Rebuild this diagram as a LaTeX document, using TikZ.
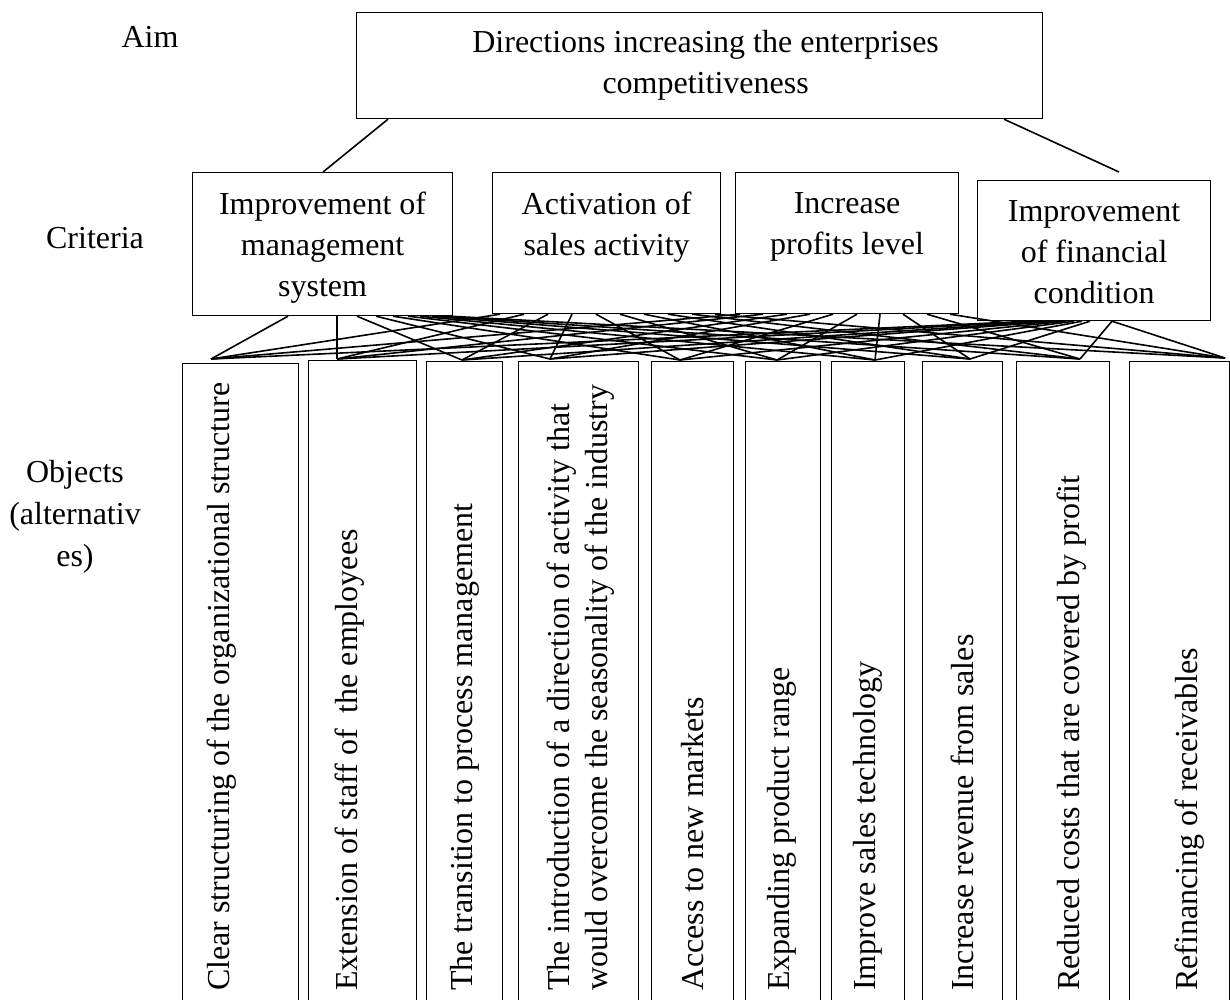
\documentclass[tikz,border=0pt]{standalone}
\usepackage{fontspec}
\setmainfont{Liberation Serif}
\begin{document}
\begin{tikzpicture}[x=1pt,y=-1pt,
  box/.style={draw, line width=1.2pt, inner sep=0pt, anchor=north west},
  txt/.style={font=\fontsize{32}{41}\selectfont, align=center, inner sep=0pt},
  rtxt/.style={font=\fontsize{32}{38}\selectfont, align=left, inner sep=0pt, rotate=90, anchor=west},
  link/.style={line width=1.6pt}]
\useasboundingbox (0,0) rectangle (1230,999);
% labels
\node[txt] (laim) at (150,37) {Aim};
\node[txt] (lcrit) at (95,238) {Criteria};
\node[txt, font=\fontsize{32}{42}\selectfont] (lobj) at (75,517) {Objects\\(alternativ\\es)};
% aim
\node[box, minimum width=686pt, minimum height=106pt] (aim) at (356,12) {};
\node[txt] (aimt) at ([xshift=6pt]aim.center) {Directions increasing the enterprises\\competitiveness};
% criteria
\node[box, minimum width=260pt, minimum height=143pt] (c1) at (192,172) {};
\node[box, minimum width=228pt, minimum height=141pt] (c2) at (492,172) {};
\node[box, minimum width=223pt, minimum height=141pt] (c3) at (735,172) {};
\node[box, minimum width=233pt, minimum height=140pt] (c4) at (977,180) {};
\node[txt, anchor=north] (c1t) at ([yshift=-20pt]c1.north) {Improvement of\\management\\system};
\node[txt, anchor=north] (c2t) at ([yshift=-20pt]c2.north) {Activation of\\sales activity};
\node[txt, anchor=north] (c3t) at ([yshift=-20pt]c3.north) {Increase\\profits level};
\node[txt, anchor=north] (c4t) at ([yshift=-20pt]c4.north) {Improvement\\of financial\\condition};
% objects
\node[box, minimum width=116pt, minimum height=660pt] (o1) at (182,363) {};
\node[box, minimum width=108pt, minimum height=660pt] (o2) at (308,360) {};
\node[box, minimum width=76pt, minimum height=660pt] (o3) at (426,361) {};
\node[box, minimum width=120pt, minimum height=660pt] (o4) at (518,361) {};
\node[box, minimum width=82pt, minimum height=660pt] (o5) at (651,361) {};
\node[box, minimum width=75pt, minimum height=660pt] (o6) at (745,361) {};
\node[box, minimum width=73pt, minimum height=660pt] (o7) at (831,361) {};
\node[box, minimum width=80pt, minimum height=660pt] (o8) at (922,361) {};
\node[box, minimum width=93pt, minimum height=660pt] (o9) at (1016,361) {};
\node[box, minimum width=100pt, minimum height=660pt] (o10) at (1129,361) {};
\node[rtxt] (t1) at (222,991) {Clear structuring of the organizational structure};
\node[rtxt] (t2) at (350,991) {Extension of staff of\ \ the employees};
\node[rtxt] (t3) at (465,991) {The transition to process management};
\node[rtxt] (t4) at (581,991) {The introduction of a direction of activity that\\would overcome the seasonality of the industry};
\node[rtxt] (t5) at (693,991) {Access to new markets};
\node[rtxt] (t6) at (782,991) {Expanding product range};
\node[rtxt] (t7) at (868,991) {Improve sales technology};
\node[rtxt] (t8) at (962,991) {Increase revenue from sales};
\node[rtxt] (t9) at (1072,991) {Reduced costs that are covered by profit};
\node[rtxt] (t10) at (1190,991) {Refinancing of receivables};
% convergence points above objects
\coordinate (p1) at (211,359);
\coordinate (p2) at (337,359);
\coordinate (p3) at (462,360);
\coordinate (p4) at (550,359);
\coordinate (p5) at (680,360);
\coordinate (p6) at (777,360);
\coordinate (p7) at (875,360);
\coordinate (p8) at (970,359);
\coordinate (p9) at (1080,359);
\coordinate (p10) at (1225,358);
% aim to criteria
\draw[link] ([xshift=32pt]aim.south west) -- ([xshift=131pt]c1.north west);
\draw[link] ([xshift=648pt]aim.south west) -- ([xshift=142pt,yshift=8pt]c4.north west);
% criteria to objects
\foreach \x [count=\j] in {96,145,165,184,201,216,228,240,250,258}
  \draw[link] ([xshift=\x pt]c1.south west) -- (p\j);
\foreach \x [count=\j] in {8,32,56,80,104,128,152,176,200,223}
  \draw[link] ([xshift=\x pt]c2.south west) -- (p\j);
\foreach \x [count=\j] in {5,28,52,75,98,122,145,168,192,215}
  \draw[link] ([xshift=\x pt]c3.south west) -- (p\j);
\foreach \x [count=\j] in {53,63,73,81,89,97,105,113,135,135}
  \draw[link] ([xshift=\x pt]c4.south west) -- (p\j);
\end{tikzpicture}
\end{document}
